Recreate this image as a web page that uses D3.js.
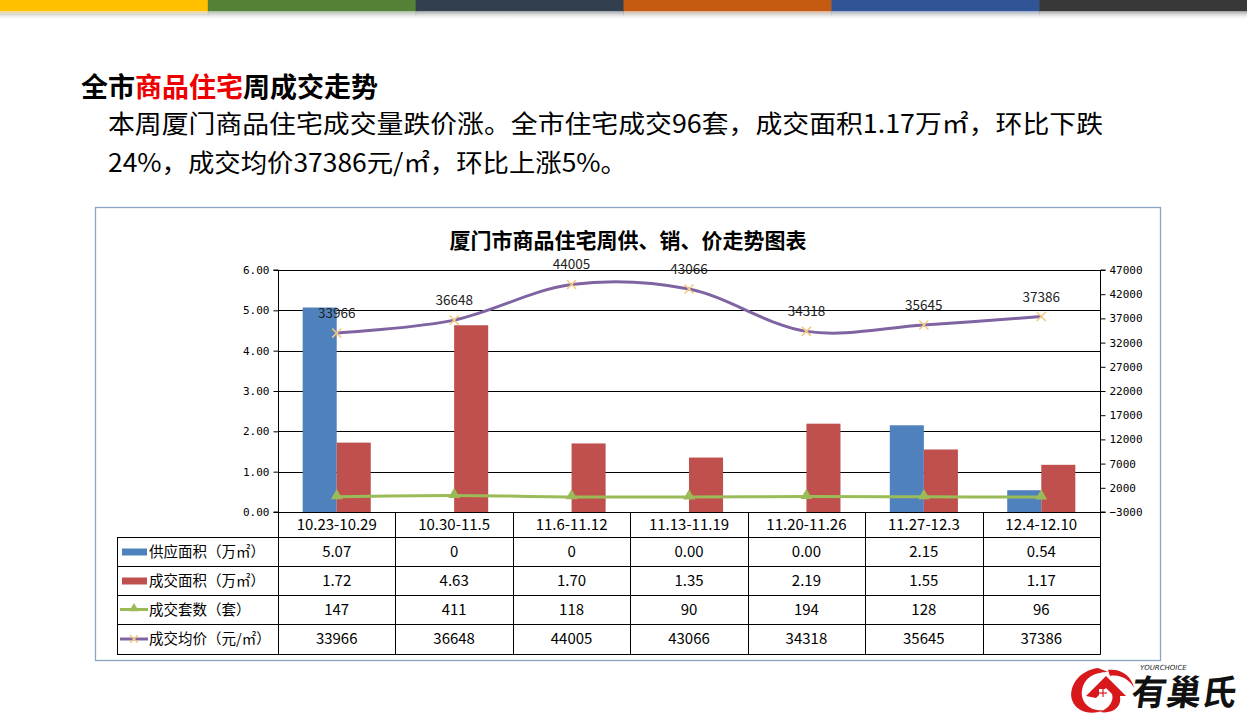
<!DOCTYPE html>
<html><head><meta charset="utf-8">
<script src="https://cdn.jsdelivr.net/npm/d3@7"></script>
<style>body{margin:0;background:#fff}svg{display:block}</style>
</head><body>
<svg id="c" width="1247" height="718"></svg>
<script>
const categories = ["10.23-10.29","10.30-11.5","11.6-11.12","11.13-11.19","11.20-11.26","11.27-12.3","12.4-12.10"];
const supplyArea = [5.07, 0, 0, 0.00, 0.00, 2.15, 0.54];
const supplyLabels = ["5.07","0","0","0.00","0.00","2.15","0.54"];
const saleArea = [1.72, 4.63, 1.70, 1.35, 2.19, 1.55, 1.17];
const saleLabels = ["1.72","4.63","1.70","1.35","2.19","1.55","1.17"];
const saleUnits = [147, 411, 118, 90, 194, 128, 96];
const avgPrice = [33966, 36648, 44005, 43066, 34318, 35645, 37386];
const leftTicks = [0,1,2,3,4,5,6];
const rightTicks = [-3000,2000,7000,12000,17000,22000,27000,32000,37000,42000,47000];
const seriesNames = ["供应面积（万㎡）","成交面积（万㎡）","成交套数（套）","成交均价（元/㎡）"];
const topColors = ["#ffc000","#538135","#323f4f","#c55a11","#2f5597","#383838"];

const svg = d3.select("#c");
const W = 1247;
const cjk = "'Noto Sans CJK SC','Microsoft YaHei',sans-serif";

// top colour band
const defs = svg.append("defs");
const segW = W / topColors.length;
topColors.forEach((c,i)=>{
  svg.append("rect").attr("x",i*segW).attr("y",0).attr("width",segW+0.5).attr("height",11).attr("fill",c);
  const g = defs.append("linearGradient").attr("id","f"+i).attr("x1",0).attr("x2",0).attr("y1",0).attr("y2",1);
  g.append("stop").attr("offset","0").attr("stop-color",c).attr("stop-opacity",0.5);
  g.append("stop").attr("offset","0.4").attr("stop-color","#888").attr("stop-opacity",0.3);
  g.append("stop").attr("offset","1").attr("stop-color","#fff").attr("stop-opacity",0);
  svg.append("rect").attr("x",i*segW).attr("y",11).attr("width",segW+0.5).attr("height",9).attr("fill","url(#f"+i+")");
});

// headings
const h = svg.append("text").attr("x",81).attr("y",97).attr("font-family",cjk).attr("font-weight","bold").attr("font-size",27).attr("fill","#000");
h.append("tspan").text("全市");
h.append("tspan").attr("fill","#ee0000").text("商品住宅");
h.append("tspan").text("周成交走势");
svg.append("text").attr("x",108).attr("y",133).attr("font-family",cjk).attr("font-size",25).attr("fill","#000")
  .attr("textLength",995).attr("lengthAdjust","spacingAndGlyphs")
  .text("本周厦门商品住宅成交量跌价涨。全市住宅成交96套，成交面积1.17万㎡，环比下跌");
svg.append("text").attr("x",108).attr("y",172).attr("font-family",cjk).attr("font-size",25).attr("fill","#000")
  .attr("textLength",519).attr("lengthAdjust","spacingAndGlyphs")
  .text("24%，成交均价37386元/㎡，环比上涨5%。");

// chart frame
svg.append("rect").attr("x",95.5).attr("y",207.5).attr("width",1065).attr("height",453)
  .attr("fill","#fff").attr("stroke","#8aa4c4").attr("stroke-width",1.3);
svg.append("text").attr("x",628).attr("y",248).attr("text-anchor","middle").attr("font-family",cjk)
  .attr("font-weight","bold").attr("font-size",21).attr("fill","#000").text("厦门市商品住宅周供、销、价走势图表");

const x0 = 278, x1 = 1100, yTop = 270, yBot = 512;
const x = d3.scaleBand().domain(categories).range([x0,x1]).paddingInner(0).paddingOuter(0);
const bw = x.bandwidth();
const xs = d3.scaleBand().domain(["supply","sale"]).range([bw*0.21, bw*0.79]).padding(0);
const yL = d3.scaleLinear().domain([0,6]).range([yBot,yTop]);
const yR = d3.scaleLinear().domain([-3000,47000]).range([yBot,yTop]);

const plot = svg.append("g");
plot.selectAll("line.grid").data(leftTicks.slice(1)).join("line")
  .attr("x1",x0).attr("x2",x1).attr("y1",d=>Math.round(yL(d))+0.5).attr("y2",d=>Math.round(yL(d))+0.5)
  .attr("stroke","#000").attr("stroke-width",1);

const groups = plot.selectAll("g.cat").data(categories).join("g").attr("transform",d=>`translate(${x(d)},0)`);
groups.append("rect").attr("x",xs("supply")).attr("width",xs.bandwidth())
  .attr("y",(d,i)=>yL(supplyArea[i])).attr("height",(d,i)=>yBot-yL(supplyArea[i])).attr("fill","#4f81bd");
groups.append("rect").attr("x",xs("sale")).attr("width",xs.bandwidth())
  .attr("y",(d,i)=>yL(saleArea[i])).attr("height",(d,i)=>yBot-yL(saleArea[i])).attr("fill","#c0504d");

const cx = d => x(d) + bw/2;
const unitPts = categories.map((c,i)=>[cx(c), yR(saleUnits[i])]);
plot.append("path").attr("d",d3.line().curve(d3.curveCatmullRom.alpha(0.5))(unitPts))
  .attr("fill","none").attr("stroke","#9bbb59").attr("stroke-width",3);
plot.selectAll("path.tri").data(unitPts).join("path")
  .attr("d",d3.symbol(d3.symbolTriangle,60)).attr("transform",d=>`translate(${d[0]},${d[1]-1})`).attr("fill","#9bbb59");

const pricePts = categories.map((c,i)=>[cx(c), yR(avgPrice[i])]);
plot.append("path").attr("d",d3.line().curve(d3.curveCatmullRom.alpha(0.5))(pricePts))
  .attr("fill","none").attr("stroke","#8064a2").attr("stroke-width",3);
plot.selectAll("path.xm").data(pricePts).join("path")
  .attr("d",d3.symbol(d3.symbolX,55)).attr("transform",d=>`translate(${d[0]},${d[1]})`)
  .attr("fill","none").attr("stroke","#f3c87f").attr("stroke-width",1.5);
plot.selectAll("text.pl").data(pricePts).join("text")
  .attr("x",d=>d[0]).attr("y",d=>d[1]-15).attr("text-anchor","middle")
  .attr("font-family",cjk).attr("font-size",13.5).attr("fill","#222").text((d,i)=>avgPrice[i]);

const axL = d3.axisLeft(yL).tickValues(leftTicks).tickSize(5).tickFormat(d3.format(".2f"));
const gL = svg.append("g").attr("transform",`translate(${x0+0.5},0)`).call(axL);
const axR = d3.axisRight(yR).tickValues(rightTicks).tickSize(5).tickFormat(d=>d<0?"\u2212"+(-d):d);
const gR = svg.append("g").attr("transform",`translate(${x1+0.5},0)`).call(axR);
[gL,gR].forEach(g=>{
  g.select(".domain").attr("stroke","#000").attr("d", g===gL ? `M-5,${yTop}H0V${yBot}H-5` : `M5,${yTop}H0V${yBot}H5`);
  g.selectAll(".tick line").attr("stroke","#000");
  g.selectAll(".tick text").attr("font-family","'DejaVu Sans Mono','Liberation Mono',monospace").attr("font-size",11).attr("fill","#000");
});
gL.selectAll(".tick text").attr("x",-9);
gR.selectAll(".tick text").attr("x",9);

const tL = 117, rows = [512,537,566,595,624,654];
const tbl = svg.append("g").attr("stroke","#000").attr("stroke-width",1);
rows.forEach((ry,i)=>{
  tbl.append("line").attr("x1", i===0 ? x0 : tL).attr("x2",x1+0.5).attr("y1",ry+0.5).attr("y2",ry+0.5);
});
const vx = categories.map(c=>x(c)).concat([x1]);
vx.forEach(vv=>tbl.append("line").attr("x1",Math.round(vv)+0.5).attr("x2",Math.round(vv)+0.5).attr("y1",rows[0]).attr("y2",rows[5]+0.5));
tbl.append("line").attr("x1",tL+0.5).attr("x2",tL+0.5).attr("y1",rows[1]).attr("y2",rows[5]+0.5);

const tt = svg.append("g").attr("font-family",cjk).attr("font-size",15).attr("fill","#000").attr("text-anchor","middle");
categories.forEach(c=>tt.append("text").attr("x",cx(c)).attr("y",(rows[0]+rows[1])/2+5).text(c));
const rowVals = [supplyLabels, saleLabels, saleUnits, avgPrice];
rowVals.forEach((vals,r)=>{
  const yc = (rows[r+1]+rows[r+2])/2 + 5;
  categories.forEach((c,i)=>tt.append("text").attr("x",cx(c)).attr("y",yc).text(vals[i]));
  svg.append("text").attr("x",149).attr("y",yc).attr("font-family",cjk).attr("font-size",14.5).attr("fill","#000").text(seriesNames[r]);
  const ly = yc - 5;
  if (r < 2) {
    svg.append("rect").attr("x",122).attr("y",ly-3).attr("width",25).attr("height",7).attr("fill", r===0?"#4f81bd":"#c0504d");
  } else {
    const col = r===2 ? "#9bbb59" : "#8064a2";
    svg.append("line").attr("x1",120).attr("x2",148).attr("y1",ly).attr("y2",ly).attr("stroke",col).attr("stroke-width",3);
    if (r===2) svg.append("path").attr("d",d3.symbol(d3.symbolTriangle,40)).attr("transform",`translate(134,${ly-1})`).attr("fill",col);
    else svg.append("path").attr("d",d3.symbol(d3.symbolX,40)).attr("transform",`translate(134,${ly})`).attr("fill","none").attr("stroke","#f3c87f").attr("stroke-width",1.5);
  }
});

// logo
const lg = svg.append("g");
lg.append("path").attr("d","M1098,668 C1080,670 1068,686 1072,700 C1076,712 1092,716 1104,710 C1090,712 1080,702 1082,690 C1084,678 1094,672 1108,672 Z").attr("fill","#d7191c");
lg.append("path").attr("d","M1086,696 L1106,676 L1126,696 L1120,696 C1122,708 1112,714 1100,712 C1110,708 1114,700 1112,694 L1106,688 L1096,698 Z").attr("fill","#d7191c");
lg.append("path").attr("d","M1108,670 C1120,668 1132,676 1134,688 C1130,680 1120,674 1110,676 Z").attr("fill","#d7191c");
lg.append("rect").attr("x",1099).attr("y",689).attr("width",8).attr("height",8).attr("fill","#fff");
lg.append("line").attr("x1",1103).attr("x2",1103).attr("y1",689).attr("y2",697).attr("stroke","#d7191c").attr("stroke-width",1.2);
lg.append("line").attr("x1",1099).attr("x2",1107).attr("y1",693).attr("y2",693).attr("stroke","#d7191c").attr("stroke-width",1.2);
lg.append("text").attr("x",1140).attr("y",670).attr("font-family","'DejaVu Sans',sans-serif").attr("font-style","italic")
  .attr("font-size",7).attr("fill","#222").text("YOURCHOICE");
lg.append("text").attr("x",1132).attr("y",705).attr("font-family",cjk).attr("font-weight","bold").attr("font-size",35)
  .attr("fill","#111").attr("transform","skewX(-8)").attr("dx",97).text("有巢氏");
</script>
</body></html>
